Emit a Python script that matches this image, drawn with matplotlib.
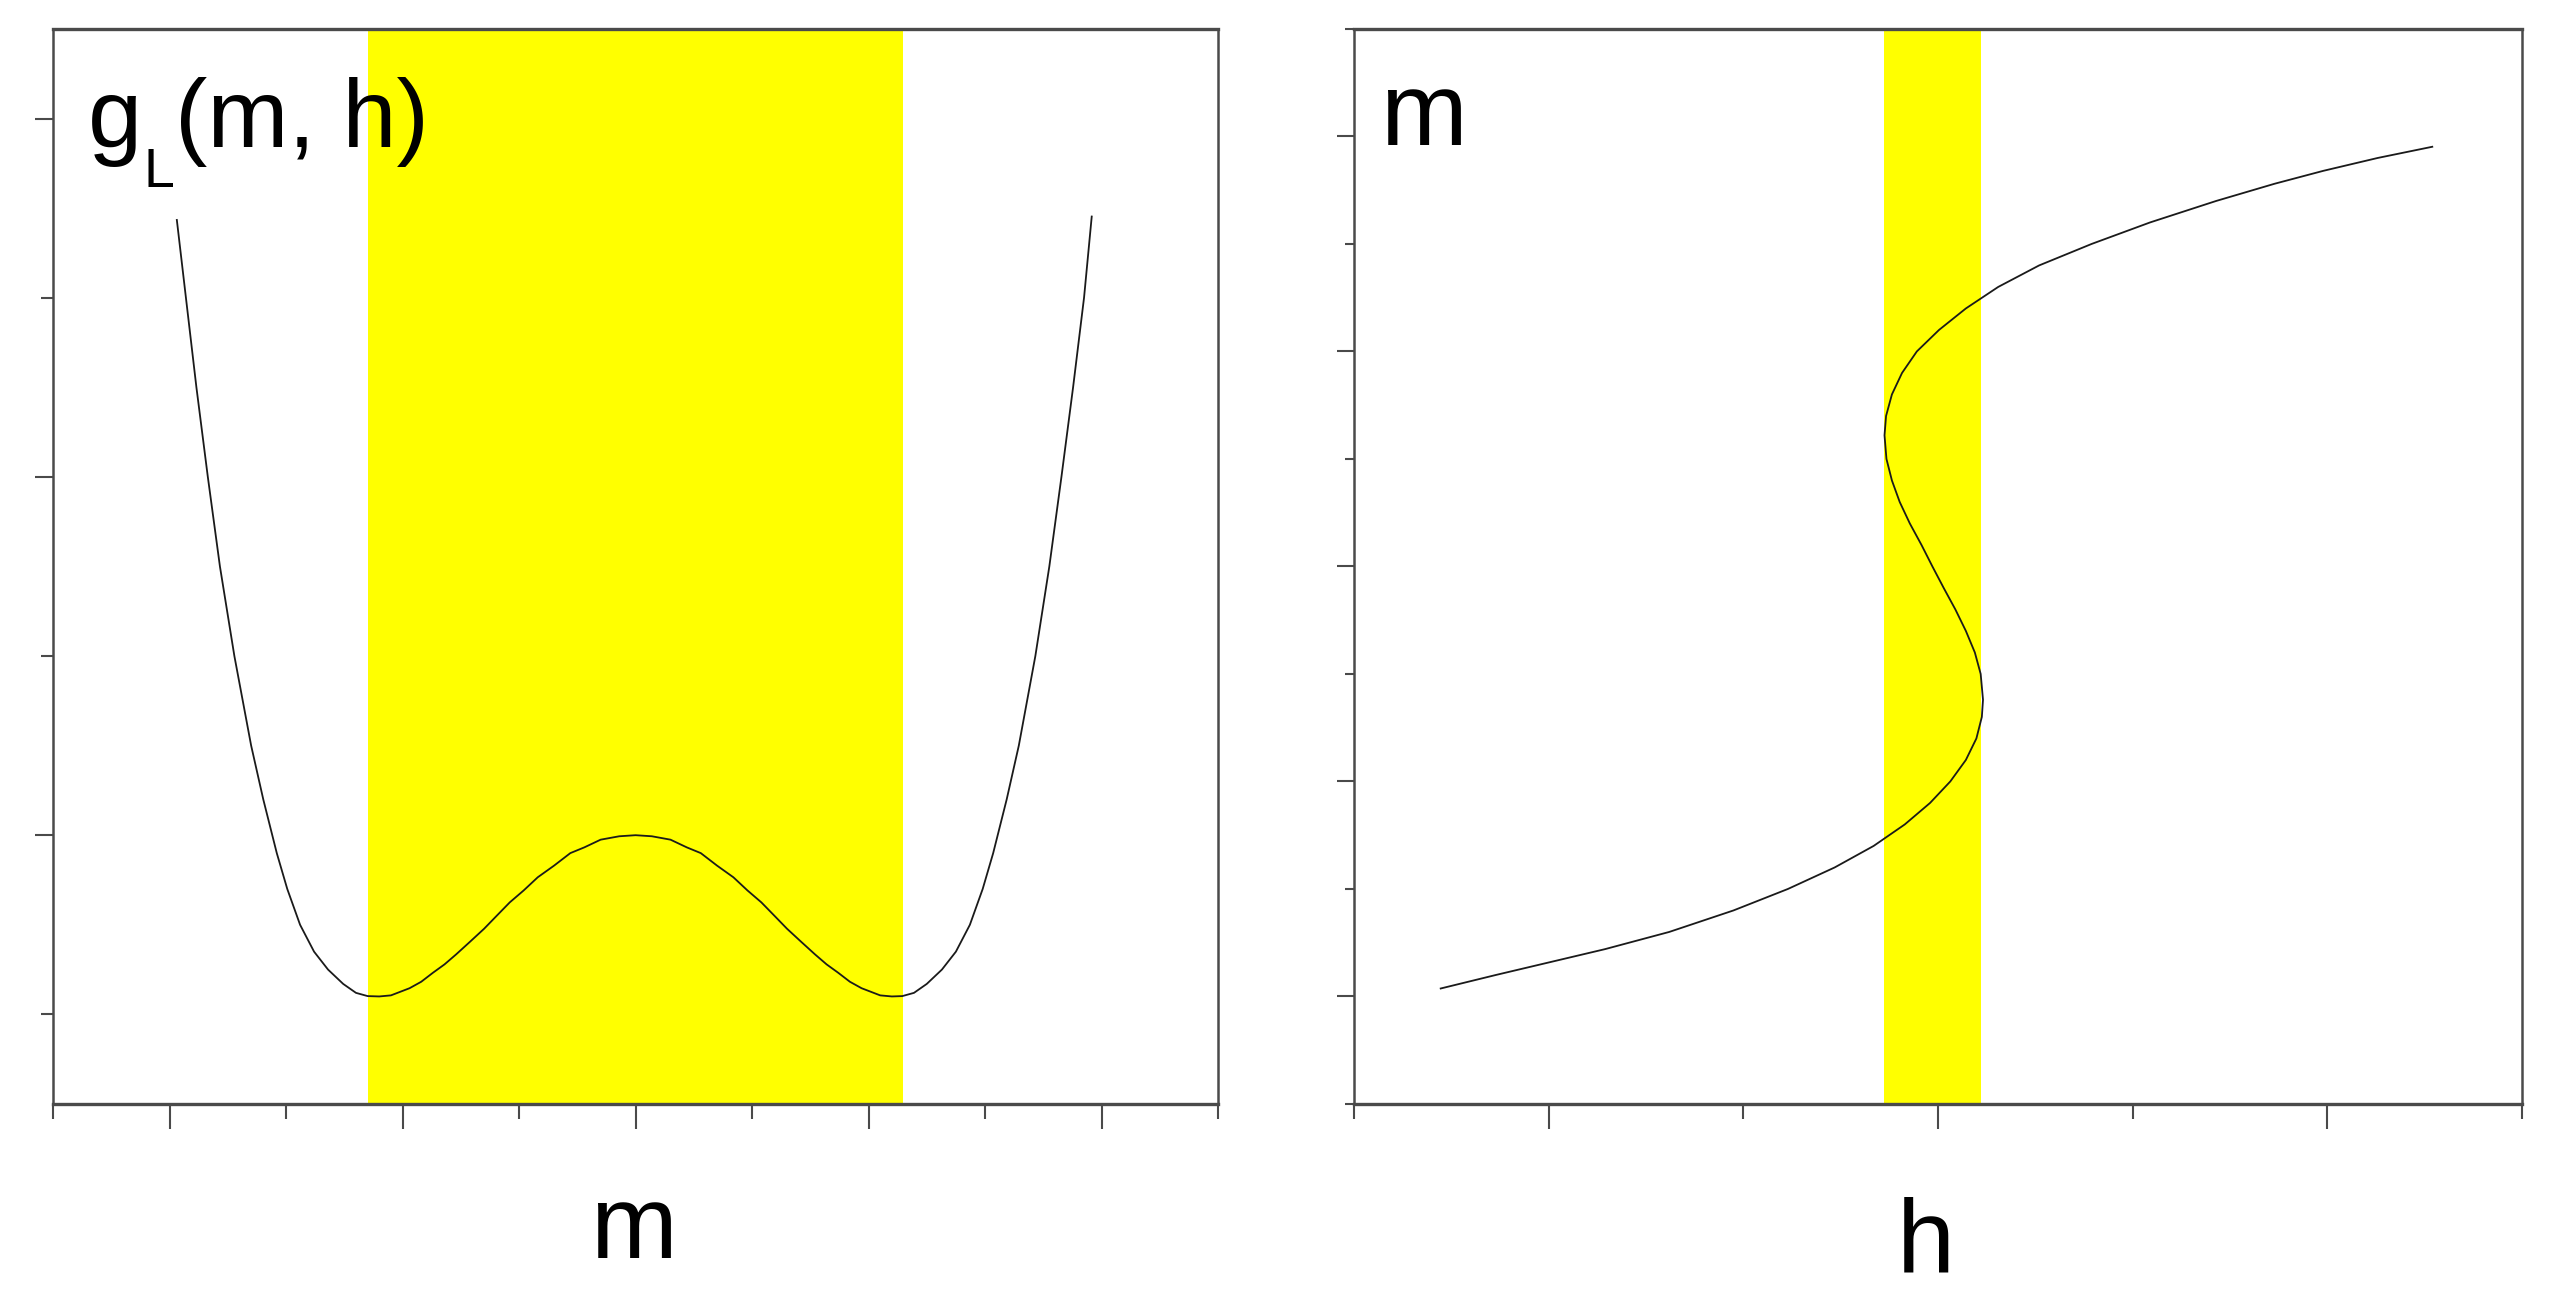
import matplotlib
matplotlib.use("Agg")

import matplotlib.pyplot as plt

# Landau free energy g_L(m, h) vs m (left panel)
m_left = [-1.969, -1.930, -1.885, -1.836, -1.784, -1.722, -1.650, -1.598, -1.540, -1.495,
          -1.440, -1.380, -1.320, -1.255, -1.200, -1.150, -1.100, -1.050, -0.970, -0.920,
          -0.870, -0.820, -0.770, -0.710, -0.650, -0.600, -0.540, -0.480, -0.420, -0.350,
          -0.280, -0.220, -0.150, -0.070, 0.000, 0.070, 0.150, 0.220, 0.280, 0.350,
          0.420, 0.480, 0.540, 0.600, 0.650, 0.710, 0.770, 0.820, 0.870, 0.920,
          0.970, 1.050, 1.100, 1.145, 1.195, 1.250, 1.315, 1.375, 1.435, 1.490,
          1.535, 1.593, 1.645, 1.716, 1.776, 1.828, 1.878, 1.925, 1.958]
g_left = [4.434, 4.000, 3.500, 3.000, 2.500, 2.000, 1.500, 1.200, 0.900, 0.700,
          0.500, 0.350, 0.250, 0.170, 0.120, 0.102, 0.100, 0.106, 0.146, 0.182,
          0.232, 0.279, 0.335, 0.406, 0.478, 0.545, 0.625, 0.692, 0.765, 0.830,
          0.900, 0.932, 0.975, 0.994, 1.000, 0.994, 0.975, 0.932, 0.900, 0.830,
          0.765, 0.692, 0.625, 0.545, 0.478, 0.406, 0.335, 0.279, 0.232, 0.182,
          0.146, 0.106, 0.100, 0.102, 0.120, 0.170, 0.250, 0.350, 0.500, 0.700,
          0.900, 1.200, 1.500, 2.000, 2.500, 3.000, 3.500, 4.000, 4.453]

# m vs h, S-shaped (right panel)
m_right = [-1.963, -1.900, -1.840, -1.780, -1.700, -1.600, -1.500, -1.400, -1.300, -1.200,
           -1.100, -1.000, -0.900, -0.800, -0.700, -0.620, -0.500, -0.400, -0.300, -0.200,
           -0.100, 0.000, 0.100, 0.200, 0.300, 0.400, 0.500, 0.610, 0.700, 0.800,
           0.900, 1.000, 1.100, 1.200, 1.300, 1.400, 1.500, 1.600, 1.700, 1.780,
           1.840, 1.900, 1.952]
h_right = [-1.277, -1.135, -0.995, -0.855, -0.690, -0.525, -0.385, -0.265, -0.165, -0.085,
           -0.020, 0.032, 0.072, 0.099, 0.113, 0.116, 0.110, 0.095, 0.072, 0.045,
           0.015, -0.014, -0.042, -0.072, -0.098, -0.118, -0.132, -0.137, -0.133, -0.118,
           -0.092, -0.054, 0.003, 0.072, 0.155, 0.260, 0.395, 0.545, 0.715, 0.865,
           0.990, 1.130, 1.270]

# unstable (yellow) regions
band_m = (-1.15, 1.15)
band_h = (-0.138, 0.112)

plt.rcParams['font.family'] = ['Liberation Sans', 'DejaVu Sans']

fig = plt.figure(figsize=(25.54, 12.98), dpi=100)
ax1 = fig.add_axes([0.0208, 0.1495, 0.4561, 0.8282])
ax2 = fig.add_axes([0.5301, 0.1495, 0.4573, 0.8282])

spine_col = '#4a4a4a'
for ax in (ax1, ax2):
    for side in ('top', 'bottom'):
        ax.spines[side].set_linewidth(2.4)
        ax.spines[side].set_color(spine_col)
    for side in ('left', 'right'):
        ax.spines[side].set_linewidth(1.8)
        ax.spines[side].set_color(spine_col)
    ax.tick_params(which='both', direction='out', width=1.5, color=spine_col,
                   labelbottom=False, labelleft=False)
    ax.tick_params(axis='x', which='major', length=18)
    ax.tick_params(axis='x', which='minor', length=11)

# left panel
ax1.axvspan(band_m[0], band_m[1], color='#ffff00', lw=0, zorder=0)
ax1.plot(m_left, g_left, color='#1a1a1a', lw=1.3)
ax1.set_xlim(-2.5, 2.5)
ax1.set_ylim(-0.5, 5.5)
ax1.set_xticks([-2, -1, 0, 1, 2])
ax1.set_xticks([-2.5, -1.5, -0.5, 0.5, 1.5, 2.5], minor=True)
ax1.set_yticks([1, 3, 5])
ax1.set_yticks([0, 2, 4], minor=True)
ax1.tick_params(axis='y', which='major', length=13)
ax1.tick_params(axis='y', which='minor', length=9)

ax1.text(0.030, 0.890, 'g', transform=ax1.transAxes, fontsize=70, va='baseline', ha='left')
ax1.text(0.0775, 0.853, 'L', transform=ax1.transAxes, fontsize=40, va='baseline', ha='left')
ax1.text(0.1045, 0.890, '(m, h)', transform=ax1.transAxes, fontsize=70, va='baseline', ha='left')

ax1.set_xlabel('m', fontsize=75)
ax1.xaxis.set_label_coords(0.498, -0.143)
ax1.xaxis.label.set_va('baseline')

# right panel
ax2.axvspan(band_h[0], band_h[1], color='#ffff00', lw=0, zorder=0)
ax2.plot(h_right, m_right, color='#1a1a1a', lw=1.3)
ax2.set_xlim(-1.5, 1.5)
ax2.set_ylim(-2.5, 2.5)
ax2.set_xticks([-1, 0, 1])
ax2.set_xticks([-1.5, -0.5, 0.5, 1.5], minor=True)
ax2.set_yticks([-2, -1, 0, 1, 2])
ax2.set_yticks([-2.5, -1.5, -0.5, 0.5, 1.5, 2.5], minor=True)
ax2.tick_params(axis='y', which='major', length=12)
ax2.tick_params(axis='y', which='minor', length=6.5)

ax2.set_ylabel('m', fontsize=75, rotation=0)
ax2.yaxis.set_label_coords(0.022, 0.892)
ax2.yaxis.label.set_ha('left')
ax2.yaxis.label.set_va('baseline')

ax2.set_xlabel('h', fontsize=75)
ax2.xaxis.set_label_coords(0.49, -0.156)
ax2.xaxis.label.set_va('baseline')

fig.savefig('out.png', dpi=100, facecolor='white')
